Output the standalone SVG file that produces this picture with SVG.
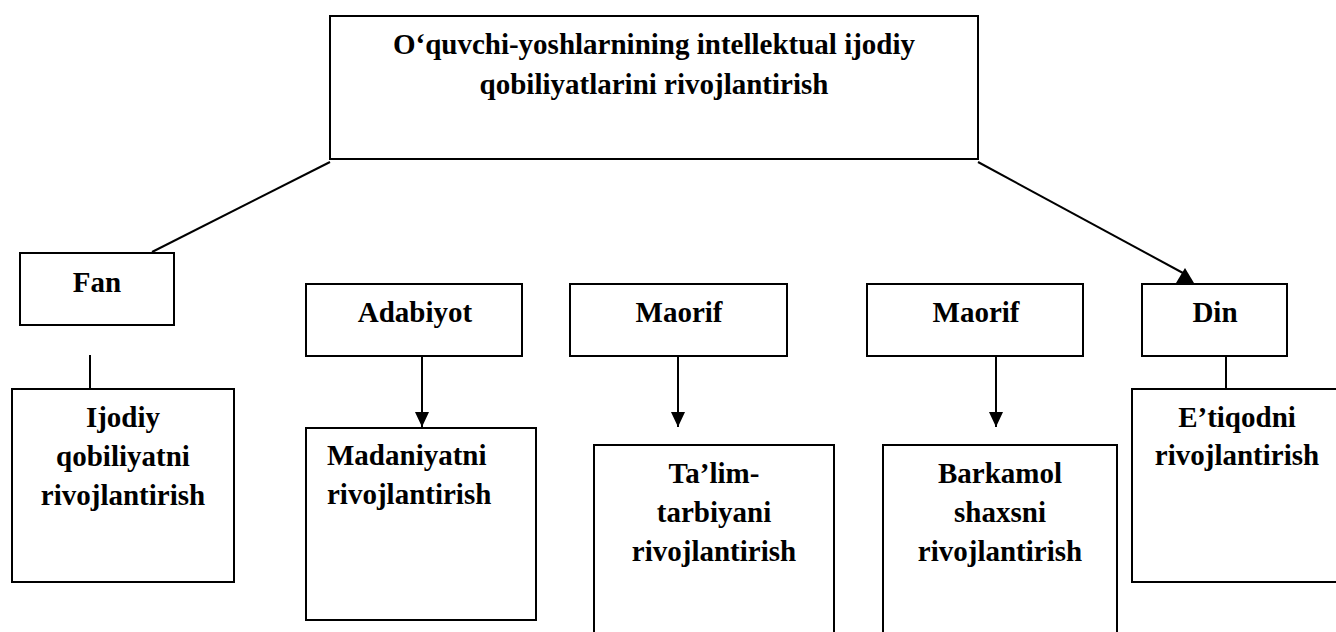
<svg xmlns="http://www.w3.org/2000/svg" width="1336" height="632" viewBox="0 0 1336 632">
  <style>
    .box { fill: #ffffff; stroke: #000000; stroke-width: 2; }
    .t { font-family: "Liberation Serif", "Times New Roman", serif; font-weight: bold; font-size: 29px; fill: #000000; text-anchor: middle; }
    .tl { text-anchor: start; }
    .c { stroke: #000000; stroke-width: 2; fill: none; }
  </style>
  <defs>
    <marker id="arr" markerUnits="userSpaceOnUse" markerWidth="16" markerHeight="16" viewBox="0 0 16 16" refX="15" refY="8" orient="auto">
      <path d="M0,1 L15,8 L0,15 Z" fill="#000000"/>
    </marker>
  </defs>
  <rect width="1336" height="632" fill="#ffffff"/>

  <g id="connectors">
    <line class="c" x1="152" y1="252" x2="330" y2="162"/>
    <line class="c" x1="978" y1="162" x2="1183" y2="273"/>
    <polygon points="1185,268 1176,283 1194,283" fill="#000000"/>
    <line class="c" x1="90" y1="355" x2="90" y2="389"/>
    <line class="c" x1="422" y1="356" x2="422" y2="427" marker-end="url(#arr)"/>
    <line class="c" x1="678" y1="356" x2="678" y2="427" marker-end="url(#arr)"/>
    <line class="c" x1="996" y1="356" x2="996" y2="427" marker-end="url(#arr)"/>
    <line class="c" x1="1226" y1="356" x2="1226" y2="389"/>
  </g>

  <g id="node-top">
    <rect class="box" x="330" y="16" width="648" height="143"/>
    <text class="t" x="654" y="54">O‘quvchi-yoshlarnining intellektual ijodiy</text>
    <text class="t" x="654" y="94">qobiliyatlarini rivojlantirish</text>
  </g>

  <g id="node-fan">
    <rect class="box" x="20" y="253" width="154" height="72"/>
    <text class="t" x="97" y="292">Fan</text>
  </g>
  <g id="node-ijodiy">
    <rect class="box" x="12" y="389" width="222" height="193"/>
    <text class="t" x="123" y="427">Ijodiy</text>
    <text class="t" x="123" y="466">qobiliyatni</text>
    <text class="t" x="123" y="505">rivojlantirish</text>
  </g>

  <g id="node-adabiyot">
    <rect class="box" x="306" y="284" width="216" height="72"/>
    <text class="t" x="415" y="322">Adabiyot</text>
  </g>
  <g id="node-madaniyat">
    <rect class="box" x="306" y="428" width="230" height="192"/>
    <text class="t tl" x="327" y="465">Madaniyatni</text>
    <text class="t tl" x="327" y="504">rivojlantirish</text>
  </g>

  <g id="node-maorif1">
    <rect class="box" x="570" y="284" width="217" height="72"/>
    <text class="t" x="679" y="322">Maorif</text>
  </g>
  <g id="node-talim">
    <rect class="box" x="594" y="445" width="240" height="200"/>
    <text class="t" x="714" y="483">Ta’lim-</text>
    <text class="t" x="714" y="522">tarbiyani</text>
    <text class="t" x="714" y="561">rivojlantirish</text>
  </g>

  <g id="node-maorif2">
    <rect class="box" x="867" y="284" width="216" height="72"/>
    <text class="t" x="976" y="322">Maorif</text>
  </g>
  <g id="node-barkamol">
    <rect class="box" x="883" y="445" width="234" height="200"/>
    <text class="t" x="1000" y="483">Barkamol</text>
    <text class="t" x="1000" y="522">shaxsni</text>
    <text class="t" x="1000" y="561">rivojlantirish</text>
  </g>

  <g id="node-din">
    <rect class="box" x="1142" y="284" width="145" height="72"/>
    <text class="t" x="1215" y="322">Din</text>
  </g>
  <g id="node-etiqod">
    <rect class="box" x="1132" y="389" width="212" height="193"/>
    <text class="t" x="1237" y="427">E’tiqodni</text>
    <text class="t" x="1237" y="465">rivojlantirish</text>
  </g>
</svg>
